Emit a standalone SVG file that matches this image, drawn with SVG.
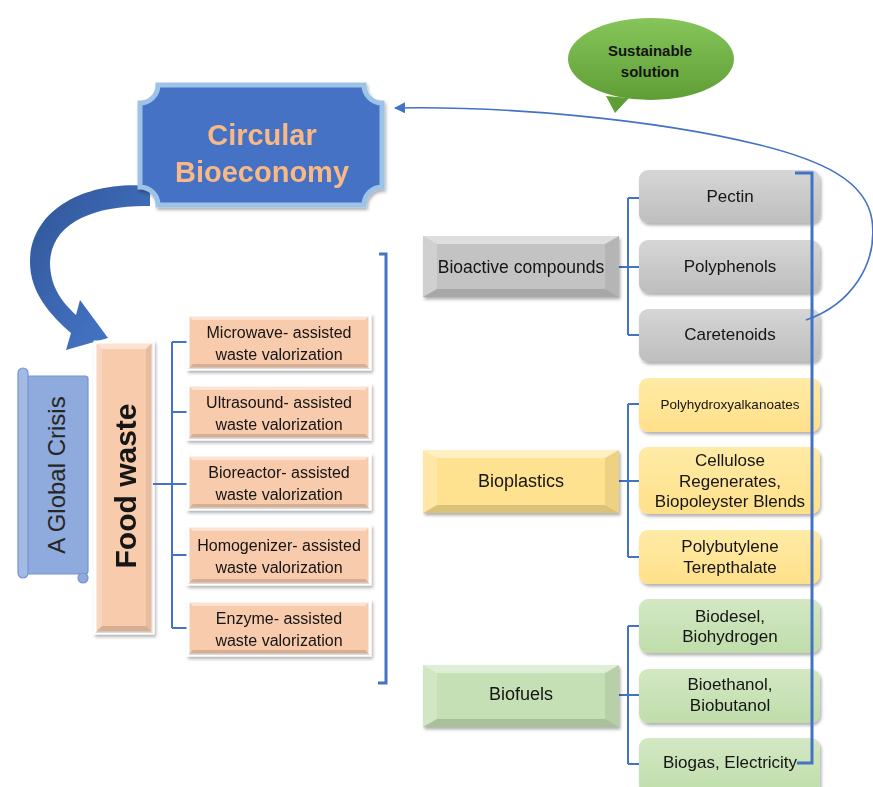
<svg xmlns="http://www.w3.org/2000/svg" width="873" height="787" viewBox="0 0 873 787">
<defs>
  <filter id="sh" x="-10%" y="-10%" width="130%" height="140%">
    <feDropShadow dx="1.5" dy="2.5" stdDeviation="1.8" flood-color="#000" flood-opacity="0.3"/>
  </filter>
  <linearGradient id="gGray" x1="0" y1="0" x2="0" y2="1"><stop offset="0" stop-color="#D6D6D6"/><stop offset="1" stop-color="#BEBEBE"/></linearGradient>
  <linearGradient id="gYel" x1="0" y1="0" x2="0" y2="1"><stop offset="0" stop-color="#FFEBA6"/><stop offset="1" stop-color="#FFE08A"/></linearGradient>
  <linearGradient id="gGrn" x1="0" y1="0" x2="0" y2="1"><stop offset="0" stop-color="#D3E8C4"/><stop offset="1" stop-color="#BFDDAA"/></linearGradient>
  <linearGradient id="gBub" x1="0" y1="0" x2="0" y2="1"><stop offset="0" stop-color="#86C55A"/><stop offset="1" stop-color="#5E9E35"/></linearGradient>
  <linearGradient id="gArr" x1="0" y1="0" x2="1" y2="1"><stop offset="0" stop-color="#2F5597"/><stop offset="1" stop-color="#4A7BD0"/></linearGradient>
  <marker id="ah" viewBox="0 0 10 10" refX="9" refY="5" markerWidth="7" markerHeight="7" orient="auto-start-reverse">
    <path d="M0,0 L10,5 L0,10 z" fill="#4472C4"/>
  </marker>
  <style>
    .t{font-family:"Liberation Sans",Arial,sans-serif;fill:#141414;text-anchor:middle}
    .ln{stroke:#4472C4;stroke-width:2;fill:none}
    .br{stroke:#4472C4;stroke-width:3;fill:none}
    .hl{fill:#fff;opacity:.45}
    .hl2{fill:#fff;opacity:.22}
    .dk{fill:#000;opacity:.14}
    .dk2{fill:#000;opacity:.07}
    .peach{fill:#F8CBAD}
  </style>
</defs>

<!-- speech bubble -->
<g id="sustainable">
  <path d="M606,96 L615,113 L629,98 Z" fill="#5E9E35"/>
  <ellipse cx="651" cy="59" rx="83" ry="41" fill="url(#gBub)"/>
  <text class="t" x="650" y="56" font-size="15" font-weight="bold">Sustainable</text>
  <text class="t" x="650" y="77" font-size="15" font-weight="bold">solution</text>
</g>

<!-- big curved arrow -->
<g id="bigarrow">
  <path d="M150,186 C85,180 30,210 30,262 C30,292 50,315 71,333 L66,350 L108,338 L80,300 L76,315 C60,300 50,285 50,262 C52,222 95,205 150,206 Z" fill="url(#gArr)"/>
</g>

<!-- Circular Bioeconomy -->
<g id="circular" filter="url(#sh)">
  <path d="M158,85 H364 A18,18 0 0 0 382,103 V187 A18,18 0 0 0 364,205 H158 A18,18 0 0 0 140,187 V103 A18,18 0 0 0 158,85 Z" fill="#4472C4" stroke="#9DC3E6" stroke-width="5"/>
  <text class="t" x="262" y="145" font-size="29" font-weight="bold" style="fill:#F8B986">Circular</text>
  <text class="t" x="262" y="182" font-size="29" font-weight="bold" style="fill:#F8B986">Bioeconomy</text>
</g>

<!-- A Global Crisis -->
<g id="crisis">
  <rect x="24" y="376" width="64" height="198" rx="3" fill="#8FAADC" stroke="#7393D3" stroke-width="1.2"/>
  <rect x="18" y="368" width="10" height="210" rx="5" fill="#A3BAE3" stroke="#7393D3" stroke-width="1.2"/>
  <circle cx="83" cy="578" r="5" fill="#8FAADC" stroke="#7393D3" stroke-width="1.2"/>
  <text class="t" transform="translate(65,475) rotate(-90)" font-size="24" style="fill:#262626">A Global Crisis</text>
</g>

<!-- Food waste -->
<g id="foodwaste" filter="url(#sh)">
  <rect x="95" y="342" width="58" height="291" class="peach" stroke="#fff" stroke-width="3"/>
  <polygon class="hl" points="95,342 153,342 146,349 102,349"/>
  <polygon class="hl2" points="95,342 102,349 102,626 95,633"/>
  <polygon class="dk" points="95,633 153,633 146,626 102,626"/>
  <polygon class="dk2" points="153,342 153,633 146,626 146,349"/>
  <text class="t" transform="translate(136,486) rotate(-90)" font-size="30" font-weight="bold">Food waste</text>
</g>

<!-- connectors -->
<g id="connectors">
  <path class="ln" d="M153,484 H172 M172,342 V628 M172,342 H188 M172,412 H188 M172,484 H188 M172,555 H188 M172,628 H188"/>
  <path class="br" d="M379,254 H386 V683 H378"/>
  <path class="ln" d="M619,267 H628 M628,198 V335 M628,198 H639 M628,267 H639 M628,335 H639"/>
  <path class="ln" d="M619,481 H628 M628,404 V557 M628,404 H639 M628,481 H639 M628,557 H639"/>
  <path class="ln" d="M619,695 H628 M628,626 V764 M628,626 H639 M628,695 H639 M628,764 H639"/>
</g>

<!-- left boxes -->
<g id="microwave" filter="url(#sh)">
  <rect x="188" y="315" width="182" height="54" class="peach" stroke="#fff" stroke-width="3"/>
  <polygon class="hl" points="188,315 370,315 365,320 193,320"/><polygon class="dk" points="188,369 370,369 365,364 193,364"/>
  <text class="t" x="279" y="338" font-size="16">Microwave- assisted</text>
  <text class="t" x="279" y="360" font-size="16">waste valorization</text>
</g>
<g id="ultrasound" filter="url(#sh)">
  <rect x="188" y="385" width="182" height="54" class="peach" stroke="#fff" stroke-width="3"/>
  <polygon class="hl" points="188,385 370,385 365,390 193,390"/><polygon class="dk" points="188,439 370,439 365,434 193,434"/>
  <text class="t" x="279" y="408" font-size="16">Ultrasound- assisted</text>
  <text class="t" x="279" y="430" font-size="16">waste valorization</text>
</g>
<g id="bioreactor" filter="url(#sh)">
  <rect x="188" y="455" width="182" height="54" class="peach" stroke="#fff" stroke-width="3"/>
  <polygon class="hl" points="188,455 370,455 365,460 193,460"/><polygon class="dk" points="188,509 370,509 365,504 193,504"/>
  <text class="t" x="279" y="478" font-size="16">Bioreactor- assisted</text>
  <text class="t" x="279" y="500" font-size="16">waste valorization</text>
</g>
<g id="homogenizer" filter="url(#sh)">
  <rect x="188" y="526" width="182" height="58" class="peach" stroke="#fff" stroke-width="3"/>
  <polygon class="hl" points="188,526 370,526 365,531 193,531"/><polygon class="dk" points="188,584 370,584 365,579 193,579"/>
  <text class="t" x="279" y="551" font-size="16">Homogenizer- assisted</text>
  <text class="t" x="279" y="573" font-size="16">waste valorization</text>
</g>
<g id="enzyme" filter="url(#sh)">
  <rect x="188" y="601" width="182" height="54" class="peach" stroke="#fff" stroke-width="3"/>
  <polygon class="hl" points="188,601 370,601 365,606 193,606"/><polygon class="dk" points="188,655 370,655 365,650 193,650"/>
  <text class="t" x="279" y="624" font-size="16">Enzyme- assisted</text>
  <text class="t" x="279" y="646" font-size="16">waste valorization</text>
</g>

<!-- category boxes -->
<g id="bioactive" filter="url(#sh)">
  <rect x="423" y="236" width="196" height="61" fill="#C3C3C3"/>
  <polygon class="hl" points="423,236 619,236 605,244 437,244"/>
  <polygon class="hl2" points="423,236 437,244 437,289 423,297"/>
  <polygon class="dk" points="423,297 619,297 605,289 437,289"/>
  <polygon class="dk2" points="619,236 619,297 605,289 605,244"/>
  <text class="t" x="521" y="273" font-size="17.5">Bioactive compounds</text>
</g>
<g id="bioplastics" filter="url(#sh)">
  <rect x="423" y="450" width="196" height="63" fill="#FFE28F"/>
  <polygon class="hl" points="423,450 619,450 605,458 437,458"/>
  <polygon class="hl2" points="423,450 437,458 437,505 423,513"/>
  <polygon class="dk" points="423,513 619,513 605,505 437,505"/>
  <polygon class="dk2" points="619,450 619,513 605,505 605,458"/>
  <text class="t" x="521" y="487" font-size="18">Bioplastics</text>
</g>
<g id="biofuels" filter="url(#sh)">
  <rect x="423" y="665" width="196" height="62" fill="#C5E0B4"/>
  <polygon class="hl" points="423,665 619,665 605,673 437,673"/>
  <polygon class="hl2" points="423,665 437,673 437,719 423,727"/>
  <polygon class="dk" points="423,727 619,727 605,719 437,719"/>
  <polygon class="dk2" points="619,665 619,727 605,719 605,673"/>
  <text class="t" x="521" y="700" font-size="18">Biofuels</text>
</g>

<!-- right boxes -->
<g id="pectin" filter="url(#sh)"><rect x="639" y="170" width="181" height="53" rx="9" fill="url(#gGray)"/><text class="t" x="730" y="202" font-size="17">Pectin</text></g>
<g id="polyphenols" filter="url(#sh)"><rect x="639" y="240" width="181" height="53" rx="9" fill="url(#gGray)"/><text class="t" x="730" y="272" font-size="17">Polyphenols</text></g>
<g id="caretenoids" filter="url(#sh)"><rect x="639" y="309" width="181" height="53" rx="9" fill="url(#gGray)"/><text class="t" x="730" y="340" font-size="17">Caretenoids</text></g>

<g id="pha" filter="url(#sh)"><rect x="639" y="378" width="181" height="54" rx="9" fill="url(#gYel)"/><text class="t" x="730" y="409" font-size="13.5">Polyhydroxyalkanoates</text></g>
<g id="cellulose" filter="url(#sh)"><rect x="639" y="447" width="181" height="67" rx="9" fill="url(#gYel)"/>
  <text class="t" x="730" y="466" font-size="17">Cellulose</text>
  <text class="t" x="730" y="487" font-size="17">Regenerates,</text>
  <text class="t" x="730" y="507" font-size="17">Biopoleyster Blends</text></g>
<g id="pbt" filter="url(#sh)"><rect x="639" y="530" width="181" height="54" rx="9" fill="url(#gYel)"/>
  <text class="t" x="730" y="552" font-size="17">Polybutylene</text>
  <text class="t" x="730" y="573" font-size="17">Terepthalate</text></g>

<g id="biodesel" filter="url(#sh)"><rect x="639" y="599" width="181" height="54" rx="9" fill="url(#gGrn)"/>
  <text class="t" x="730" y="622" font-size="17">Biodesel,</text>
  <text class="t" x="730" y="642" font-size="17">Biohydrogen</text></g>
<g id="bioethanol" filter="url(#sh)"><rect x="639" y="669" width="181" height="54" rx="9" fill="url(#gGrn)"/>
  <text class="t" x="730" y="690" font-size="17">Bioethanol,</text>
  <text class="t" x="730" y="711" font-size="17">Biobutanol</text></g>
<g id="biogas" filter="url(#sh)"><rect x="639" y="738" width="181" height="56" rx="9" fill="url(#gGrn)"/>
  <text class="t" x="730" y="768" font-size="17">Biogas, Electricity</text></g>

<!-- right bracket and feedback arrow -->
<g id="feedback">
  <path class="br" d="M795,173 H812 V763 H797"/>
  <path d="M806,320 C850,305 878,265 872,220 C866,180 820,160 760,145 C650,118 500,106 395,108" fill="none" stroke="#4472C4" stroke-width="1.6" marker-end="url(#ah)"/>
</g>
</svg>
